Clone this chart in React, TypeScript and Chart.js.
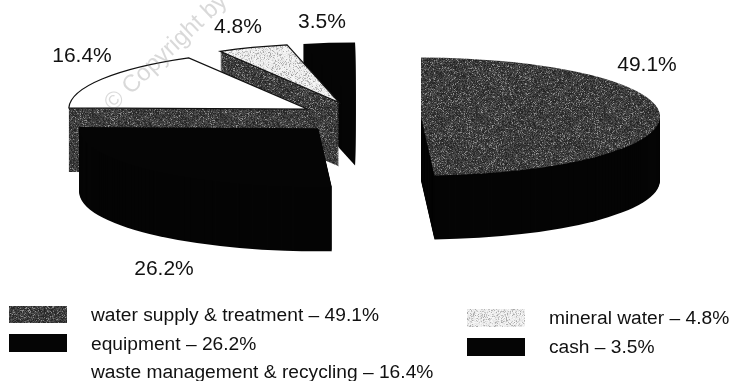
import { useEffect, useRef } from "react";
import { Chart, registerables } from "chart.js";

Chart.register(...registerables);

// Shares of spending, clockwise from twelve o'clock.
const categories = [
  "water supply & treatment",
  "equipment",
  "waste management & recycling",
  "mineral water",
  "cash",
];
const shares = [49.1, 26.2, 16.4, 4.8, 3.5];

// Back-to-front painting sequence for the exploded slices.
const paintOrder = [4, 3, 2, 1, 0];

const SQUASH = 0.247;
const DEPTH = 64;
const RADIUS = 239;
const FONT = '"Liberation Sans", Arial, sans-serif';

// Radial pull-out of each slice.
const explode = [59, 63, 63, 63, 63];

// Percent label anchors (centre x, baseline y), one per slice.
const labelAnchors: [number, number][] = [
  [647, 71],
  [164, 275],
  [82, 62],
  [238, 33],
  [322, 28],
];

// Legend rows: swatch left, swatch top, swatch height, text left, text baseline.
const legendRows: [number, number, number, number, number][] = [
  [9, 306, 17, 91, 321],
  [9, 334, 18, 91, 350],
  [9, 364, 17, 91, 378],
  [467, 309, 18, 549, 324],
  [467, 338, 18, 549, 353],
];

// Deterministic stipple used for the halftone fills.
function stipple(ctx: CanvasRenderingContext2D, base: number, spread: number, speck: number, lo: number, hi: number) {
  const size = 128;
  const tile = document.createElement("canvas");
  tile.width = size;
  tile.height = size;
  const t = tile.getContext("2d")!;
  const img = t.createImageData(size, size);
  let seed = 12345 + base;
  const next = () => {
    seed = (seed * 1664525 + 1013904223) >>> 0;
    return (seed >>> 8) / 16777216;
  };
  for (let i = 0; i < size * size; i++) {
    const n = next();
    let v = base + (next() - 0.5) * spread;
    if (n < speck) v = lo + next() * (hi - lo);
    img.data[i * 4] = img.data[i * 4 + 1] = img.data[i * 4 + 2] = v;
    img.data[i * 4 + 3] = 255;
  }
  t.putImageData(img, 0, 0);
  return ctx.createPattern(tile, "repeat")!;
}

const explodedPie = {
  id: "explodedPie",
  beforeDatasetDraw() {
    // The slices are painted in afterDatasetsDraw with their extrusion.
    return false;
  },
  afterDatasetsDraw(chart: Chart) {
    const ctx = chart.ctx;
    const arcs = chart.getDatasetMeta(0).data;
    const dark = stipple(ctx, 58, 50, 0.14, 85, 150);
    const light = stipple(ctx, 238, 24, 0.25, 165, 210);
    const tops: (string | CanvasPattern)[] = [dark, "#050505", "#ffffff", light, "#050505"];
    const sides: (string | CanvasPattern)[] = ["#050505", "#050505", dark, dark, "#050505"];
    const outlined = [false, false, true, true, false];

    const slicePath = (i: number, drop: number) => {
      const a = arcs[i].getProps(["x", "y", "startAngle", "endAngle"], true) as any;
      const mid = (a.startAngle + a.endAngle) / 2;
      const cx = a.x + Math.cos(mid) * explode[i];
      const cy = a.y + Math.sin(mid) * explode[i] * SQUASH + drop;
      ctx.beginPath();
      ctx.moveTo(cx, cy);
      ctx.ellipse(cx, cy, RADIUS, RADIUS * SQUASH, 0, a.startAngle, a.endAngle);
      ctx.closePath();
    };

    ctx.save();
    for (const i of paintOrder) {
      ctx.fillStyle = sides[i];
      for (let d = DEPTH; d > 0; d--) {
        slicePath(i, d);
        ctx.fill();
      }
      slicePath(i, 0);
      ctx.fillStyle = tops[i];
      ctx.fill();
      if (outlined[i]) {
        ctx.strokeStyle = "#111";
        ctx.lineWidth = 1.2;
        ctx.stroke();
      }
    }

    // Percent labels
    ctx.fillStyle = "#111";
    ctx.font = `21px ${FONT}`;
    ctx.textAlign = "center";
    ctx.textBaseline = "alphabetic";
    shares.forEach((v, i) => {
      ctx.fillText(`${v.toFixed(1)}%`, labelAnchors[i][0], labelAnchors[i][1]);
    });

    // Legend
    ctx.textAlign = "left";
    ctx.font = `19.2px ${FONT}`;
    categories.forEach((name, i) => {
      const [sx, sy, sh, tx, ty] = legendRows[i];
      ctx.fillStyle = tops[i];
      ctx.fillRect(sx, sy, 58, sh);
      ctx.fillStyle = "#111";
      ctx.fillText(`${name} – ${shares[i].toFixed(1)}%`, tx, ty);
    });

    // Publisher watermark across the waste slice
    ctx.translate(113, 112);
    ctx.rotate(-0.76);
    ctx.fillStyle = "rgba(120,120,120,0.28)";
    ctx.font = `24px ${FONT}`;
    ctx.fillText("© Copyright by", 0, 0);
    ctx.restore();
  },
};

export default function App() {
  const ref = useRef<HTMLCanvasElement>(null);
  useEffect(() => {
    const chart = new Chart(ref.current!, {
      type: "pie",
      data: {
        labels: categories,
        datasets: [{ data: shares, radius: RADIUS, borderWidth: 0 } as any],
      },
      options: {
        responsive: false,
        animation: false,
        layout: { padding: { right: 7, bottom: 147 } },
        plugins: { legend: { display: false }, tooltip: { enabled: false } },
      },
      plugins: [explodedPie as any],
    });
    return () => chart.destroy();
  }, []);
  return (
    <div style={{ position: "absolute", left: 0, top: 0, width: 731, height: 381, background: "#fff" }}>
      <canvas ref={ref} width={731} height={381} style={{ display: "block" }} />
    </div>
  );
}
